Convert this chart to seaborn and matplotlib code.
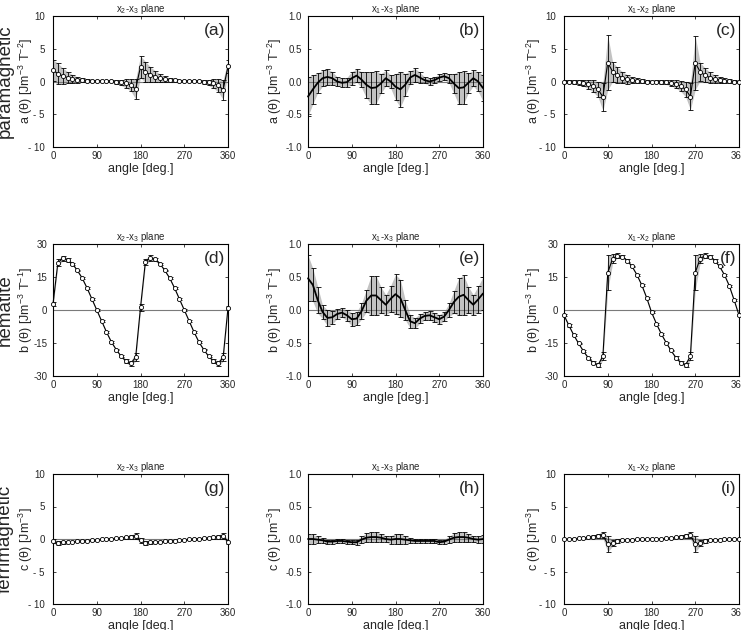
import matplotlib
matplotlib.use("Agg")
import matplotlib.pyplot as plt
import numpy as np
import pandas as pd
import seaborn as sns

# sampling angles (deg.), one point every 10 degrees
angles = list(range(0, 361, 10))

# paramagnetic a(theta)
a23 = [1.7, 1.2, 0.85, 0.6, 0.4, 0.25, 0.2, 0.15, 0.15, 0.15, 0.15, 0.1, 0.05, -0.05, -0.15, -0.3, -0.55, -1.15,
       2.25, 1.45, 1.05, 0.75, 0.5, 0.35, 0.25, 0.2, 0.15, 0.15, 0.15, 0.1, 0.05, -0.05, -0.15, -0.3, -0.6, -1.25, 2.3]
a23_err = [1.6, 1.6, 1.2, 0.9, 0.65, 0.45, 0.3, 0.2, 0.15, 0.1, 0.1, 0.15, 0.2, 0.3, 0.45, 0.65, 0.9, 1.5,
           1.65, 1.6, 1.2, 0.9, 0.65, 0.45, 0.3, 0.2, 0.15, 0.1, 0.1, 0.15, 0.2, 0.3, 0.45, 0.7, 1.0, 1.5, 1.0]
a13 = [-0.23, -0.12, -0.02, 0.05, 0.07, 0.05, 0.0, -0.02, -0.01, 0.05, 0.09, 0.03, -0.05, -0.1, -0.09, -0.03, 0.05, 0.0,
       -0.08, -0.12, -0.05, 0.06, 0.1, 0.06, 0.02, 0.0, 0.02, 0.06, 0.08, 0.05, -0.03, -0.1, -0.09, -0.02, 0.05, 0.0, -0.1]
a13_err = [0.3, 0.22, 0.15, 0.12, 0.12, 0.1, 0.07, 0.07, 0.07, 0.1, 0.1, 0.12, 0.2, 0.25, 0.25, 0.15, 0.12, 0.1,
           0.2, 0.27, 0.17, 0.1, 0.1, 0.08, 0.05, 0.05, 0.05, 0.05, 0.05, 0.07, 0.15, 0.25, 0.25, 0.15, 0.12, 0.15, 0.2]
a12 = [0.0, 0.0, -0.05, -0.1, -0.2, -0.4, -0.7, -1.2, -2.35, 2.9, 1.5, 0.95, 0.6, 0.35, 0.2, 0.1, 0.05, 0.0,
       0.0, 0.0, -0.05, -0.1, -0.2, -0.4, -0.7, -1.2, -2.3, 2.85, 1.5, 0.95, 0.6, 0.35, 0.2, 0.1, 0.05, 0.0, 0.0]
a12_err = [0.3, 0.3, 0.35, 0.4, 0.5, 0.7, 0.9, 1.15, 2.1, 4.2, 1.5, 1.2, 0.9, 0.7, 0.5, 0.4, 0.3, 0.2,
           0.15, 0.2, 0.3, 0.35, 0.45, 0.6, 0.8, 1.1, 2.0, 4.1, 1.4, 1.1, 0.85, 0.65, 0.5, 0.4, 0.3, 0.2, 0.15]

# hematite b(theta)
b23 = [2.7, 21.5, 23.5, 22.8, 21.0, 18.0, 14.5, 10.0, 5.0, 0.0, -5.0, -10.0, -14.5, -18.0, -21.0, -23.2, -24.3, -21.5,
       1.2, 21.8, 23.7, 23.0, 21.0, 18.0, 14.5, 10.0, 5.0, 0.0, -5.0, -10.0, -14.5, -18.0, -21.0, -23.2, -24.3, -21.5, 1.0]
b23_err = [1.0, 1.5, 1.2, 0.8, 0.5, 0.4, 0.4, 0.4, 0.4, 0.4, 0.4, 0.4, 0.4, 0.4, 0.5, 0.8, 1.2, 1.8,
           1.5, 1.5, 1.2, 0.8, 0.5, 0.4, 0.4, 0.4, 0.4, 0.4, 0.4, 0.4, 0.4, 0.4, 0.5, 0.8, 1.2, 1.8, 1.0]
b13 = [0.48, 0.38, 0.15, -0.03, -0.12, -0.11, -0.06, -0.04, -0.08, -0.14, -0.13, -0.02, 0.14, 0.22, 0.22, 0.15, 0.08, 0.17,
       0.24, 0.18, 0.0, -0.17, -0.2, -0.13, -0.09, -0.08, -0.11, -0.14, -0.1, 0.0, 0.12, 0.2, 0.23, 0.15, 0.08, 0.16, 0.25]
b13_err = [0.35, 0.25, 0.2, 0.1, 0.12, 0.1, 0.07, 0.07, 0.08, 0.1, 0.1, 0.12, 0.17, 0.3, 0.3, 0.2, 0.15, 0.2,
           0.3, 0.28, 0.15, 0.1, 0.08, 0.07, 0.06, 0.07, 0.07, 0.07, 0.07, 0.1, 0.17, 0.28, 0.3, 0.2, 0.15, 0.2, 0.25]
b12 = [-2.4, -7.0, -11.4, -15.2, -18.7, -21.8, -24.0, -25.0, -21.0, 17.0, 23.3, 24.7, 24.2, 22.5, 19.8, 16.0, 11.3, 5.6,
       -1.0, -6.2, -10.8, -14.8, -18.4, -21.6, -23.9, -25.0, -21.0, 17.0, 23.3, 24.7, 24.2, 22.5, 19.8, 16.0, 11.0, 4.5, -2.4]
b12_err = [0.5, 0.5, 0.4, 0.4, 0.4, 0.5, 0.7, 1.0, 1.8, 8.0, 2.0, 1.0, 0.6, 0.5, 0.4, 0.4, 0.4, 0.4,
           0.5, 0.4, 0.4, 0.4, 0.4, 0.5, 0.7, 1.0, 1.8, 8.0, 2.0, 1.0, 0.6, 0.5, 0.4, 0.4, 0.4, 0.4, 0.5]

# ferrimagnetic c(theta)
c23 = [-0.35, -0.6, -0.5, -0.45, -0.4, -0.35, -0.3, -0.25, -0.2, -0.1, -0.05, 0.0, 0.05, 0.1, 0.15, 0.25, 0.35, 0.45,
       -0.2, -0.6, -0.5, -0.45, -0.4, -0.35, -0.3, -0.25, -0.2, -0.1, -0.05, 0.0, 0.05, 0.1, 0.15, 0.25, 0.35, 0.45, -0.4]
c23_err = [0.3, 0.35, 0.25, 0.15, 0.12, 0.1, 0.1, 0.1, 0.1, 0.1, 0.1, 0.1, 0.1, 0.12, 0.15, 0.2, 0.3, 0.4,
           0.35, 0.35, 0.25, 0.15, 0.12, 0.1, 0.1, 0.1, 0.1, 0.1, 0.1, 0.1, 0.1, 0.12, 0.15, 0.2, 0.3, 0.4, 0.3]
c13 = [0.0, 0.0, -0.01, -0.02, -0.04, -0.04, -0.03, -0.03, -0.04, -0.05, -0.05, -0.01, 0.02, 0.03, 0.03, 0.02, 0.0, -0.01,
       0.0, 0.0, -0.01, -0.02, -0.03, -0.03, -0.03, -0.03, -0.03, -0.05, -0.04, -0.01, 0.02, 0.03, 0.03, 0.02, 0.0, -0.01, 0.0]
c13_err = [0.08, 0.07, 0.05, 0.04, 0.03, 0.03, 0.03, 0.03, 0.03, 0.03, 0.04, 0.05, 0.07, 0.08, 0.08, 0.06, 0.05, 0.06,
           0.08, 0.08, 0.06, 0.04, 0.03, 0.03, 0.03, 0.03, 0.03, 0.03, 0.03, 0.05, 0.07, 0.08, 0.08, 0.06, 0.05, 0.05, 0.06]
c12 = [0.0, 0.0, 0.05, 0.1, 0.15, 0.25, 0.35, 0.5, 0.6, -0.8, -0.6, -0.35, -0.2, -0.12, -0.08, -0.05, -0.03, -0.01,
       0.0, 0.0, 0.05, 0.1, 0.15, 0.25, 0.35, 0.5, 0.6, -0.8, -0.6, -0.35, -0.2, -0.12, -0.08, -0.05, -0.03, -0.01, 0.0]
c12_err = [0.05, 0.05, 0.05, 0.08, 0.1, 0.15, 0.2, 0.3, 0.5, 1.2, 0.5, 0.3, 0.15, 0.1, 0.08, 0.05, 0.05, 0.05,
           0.05, 0.05, 0.05, 0.08, 0.1, 0.15, 0.2, 0.3, 0.5, 1.2, 0.5, 0.3, 0.15, 0.1, 0.08, 0.05, 0.05, 0.05, 0.05]

x_ticks = [0, 90, 180, 270, 360]
ticks_10 = [-10, -5, 0, 5, 10]
labels_10 = ["- 10", "- 5", "0", "5", "10"]
ticks_1 = [-1.0, -0.5, 0.0, 0.5, 1.0]
labels_1 = ["-1.0", "-0.5", "0.0", "0.5", "1.0"]
ticks_30 = [-30, -15, 0, 15, 30]
labels_30 = ["-30", "-15", "0", "15", "30"]

planes = ["x$_2$-x$_3$ plane", "x$_1$-x$_3$ plane", "x$_1$-x$_2$ plane"]
row_names = ["paramagnetic", "hematite", "ferrimagnetic"]
ylabels = ["a (θ) [Jm$^{-3}$ T$^{-2}$]", "b (θ) [Jm$^{-3}$ T$^{-1}$]", "c (θ) [Jm$^{-3}$]"]
letters = ["(a)", "(b)", "(c)", "(d)", "(e)", "(f)", "(g)", "(h)", "(i)"]

panels = [
    [(a23, a23_err, ticks_10, labels_10, False), (a13, a13_err, ticks_1, labels_1, True), (a12, a12_err, ticks_10, labels_10, False)],
    [(b23, b23_err, ticks_30, labels_30, False), (b13, b13_err, ticks_1, labels_1, True), (b12, b12_err, ticks_30, labels_30, False)],
    [(c23, c23_err, ticks_10, labels_10, False), (c13, c13_err, ticks_1, labels_1, True), (c12, c12_err, ticks_10, labels_10, False)],
]

sns.set_style("ticks")
plt.rcParams["font.family"] = ["Liberation Sans", "DejaVu Sans"]
plt.rcParams["mathtext.fontset"] = "custom"
plt.rcParams["mathtext.rm"] = "Liberation Sans"
plt.rcParams["mathtext.it"] = "Liberation Sans:italic"
plt.rcParams["mathtext.bf"] = "Liberation Sans:bold"

W, H = 741, 630
lefts = [53, 308, 564]
tops = [16, 244, 474]
bottoms = [147, 376, 604]
ylabel_x = [-0.105, -0.135, -0.118]

fig = plt.figure(figsize=(W / 100, H / 100), dpi=100)

for r in range(3):
    for c in range(3):
        vals, errs, yt, ytl, thick = panels[r][c]
        ax = fig.add_axes([lefts[c] / W, 1 - bottoms[r] / H, 175 / W, (bottoms[r] - tops[r]) / H])
        df = pd.DataFrame({"angle": angles, "value": vals, "err": errs})
        lo = df["value"] - df["err"]
        hi = df["value"] + df["err"]
        ax.fill_between(df["angle"], lo, hi, color="#c2c2c2", linewidth=0, zorder=1)
        ax.axhline(0, color="#7a7a7a", linewidth=0.8, zorder=2)
        ax.errorbar(df["angle"], df["value"], yerr=df["err"], fmt="none", ecolor="black",
                    elinewidth=0.6, capsize=1.8, capthick=0.6, zorder=3)
        if thick:
            sns.lineplot(data=df, x="angle", y="value", ax=ax, color="black", linewidth=1.3,
                         zorder=4, clip_on=False)
        else:
            sns.lineplot(data=df, x="angle", y="value", ax=ax, color="black", linewidth=0.8,
                         marker="o", markersize=3, markerfacecolor="white",
                         markeredgecolor="black", markeredgewidth=0.6, zorder=4, clip_on=False)

        ax.set_xlim(0, 360)
        ax.set_ylim(yt[0], yt[-1])
        ax.set_xticks(x_ticks)
        ax.set_xticklabels([str(t) for t in x_ticks])
        ax.set_yticks(yt)
        ax.set_yticklabels(ytl)
        ax.tick_params(direction="in", top=True, right=True, length=2.5, width=0.6, labelsize=7)
        ax.tick_params(axis="x", pad=3)
        ax.tick_params(axis="y", pad=6 if yt is ticks_10 else 4.2)
        for sp in ax.spines.values():
            sp.set_linewidth(0.8)
            sp.set_color("black")
        ax.set_xlabel("angle [deg.]", fontsize=9, labelpad=1)
        ax.set_ylabel(ylabels[r], fontsize=9)
        ax.yaxis.set_label_coords(ylabel_x[c], 0.5)
        ax.set_title(planes[c], fontsize=7, pad=3)
        ax.text(0.985, 0.95, letters[r * 3 + c], transform=ax.transAxes,
                ha="right", va="top", fontsize=12.5)

    yc = 1 - (tops[r] + bottoms[r]) / 2 / H
    fig.text(10 / W, yc, row_names[r], rotation=90, rotation_mode="anchor",
             ha="center", va="baseline", fontsize=13.5)

fig.savefig("out.png", dpi=100)
